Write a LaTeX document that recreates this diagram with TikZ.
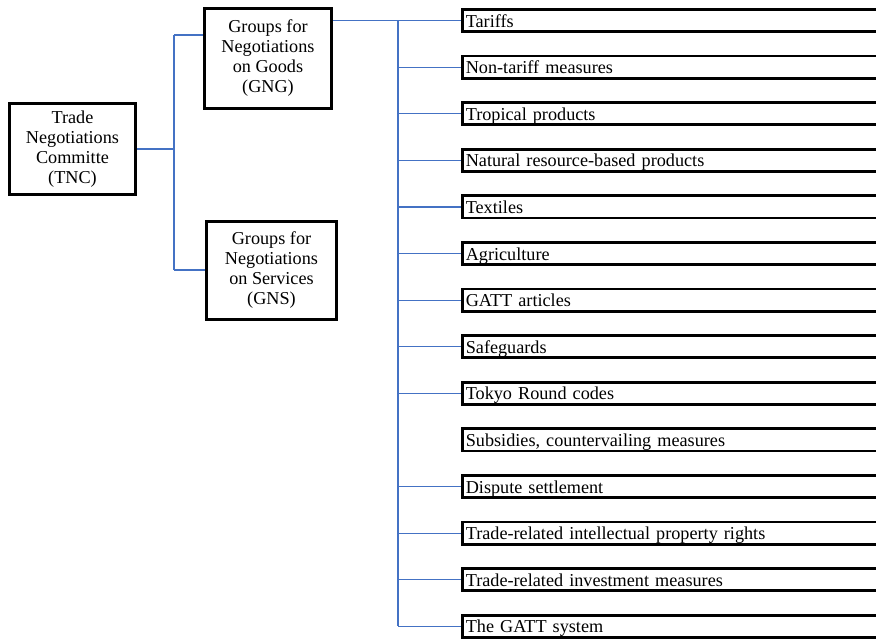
\documentclass[tikz,border=0pt]{standalone}
\usepackage{fontspec}
\setmainfont{Liberation Serif}
\definecolor{connblue}{RGB}{68,114,196}
\begin{document}
\begin{tikzpicture}[x=1pt,y=-1pt,
  txt/.style={font=\fontsize{18.2}{20}\selectfont},
  box/.style={txt, draw=black, line width=2.8pt, fill=white, align=center, inner sep=0pt},
  rbox/.style={txt, draw=black, line width=2.8pt, fill=white, anchor=west,
    minimum height=22.3pt, minimum width=440pt, text width=434pt, align=left,
    text height=14.5pt, text depth=1.5pt,
    inner xsep=3pt, inner ysep=0pt},
  conn/.style={draw=connblue, line width=1.2pt}]
\path[use as bounding box, clip] (0,0) rectangle (876,638);
\fill[white] (0,0) rectangle (876,638);

% left boxes
\node[box, minimum width=126pt, minimum height=91pt] (tnc) at (72.5,149)
  {Trade\\Negotiations\\Committe\\(TNC)};
\node[box, minimum width=127pt, minimum height=100pt] (gng) at (268,58.5)
  {Groups for\\Negotiations\\on Goods\\(GNG)};
\node[box, minimum width=130pt, minimum height=98pt] (gns) at (271.5,270.5)
  {Groups for\\Negotiations\\on Services\\(GNS)};

% right boxes
\foreach \t [count=\i] in {Tariffs, Non-tariff measures, Tropical products,
  Natural resource-based products, Textiles, Agriculture, GATT articles,
  Safeguards, Tokyo Round codes, {Subsidies, countervailing measures},
  Dispute settlement, Trade-related intellectual property rights,
  Trade-related investment measures, The GATT system}
{
  \node[rbox] (r\i) at (461.4, {20.5+46.6*(\i-1)}) {\t};
}

% connectors
\coordinate (ja) at (174,35);
\coordinate (jb) at (174,270);
\coordinate (vt) at (398,0);
\draw[conn] (tnc.east) -- (tnc.east -| ja);
\draw[conn] (ja) -- (jb);
\draw[conn] (ja) -- (ja -| gng.west);
\draw[conn] (jb) -- (jb -| gns.west);
\draw[conn] (gng.east |- r1.west) -- (r1.west);
\draw[conn] (vt |- r1.west) -- (vt |- r14.west);
\foreach \k in {2,...,9,11,12,13,14}
{
  \draw[conn] (vt |- r\k.west) -- (r\k.west);
}
\end{tikzpicture}
\end{document}
